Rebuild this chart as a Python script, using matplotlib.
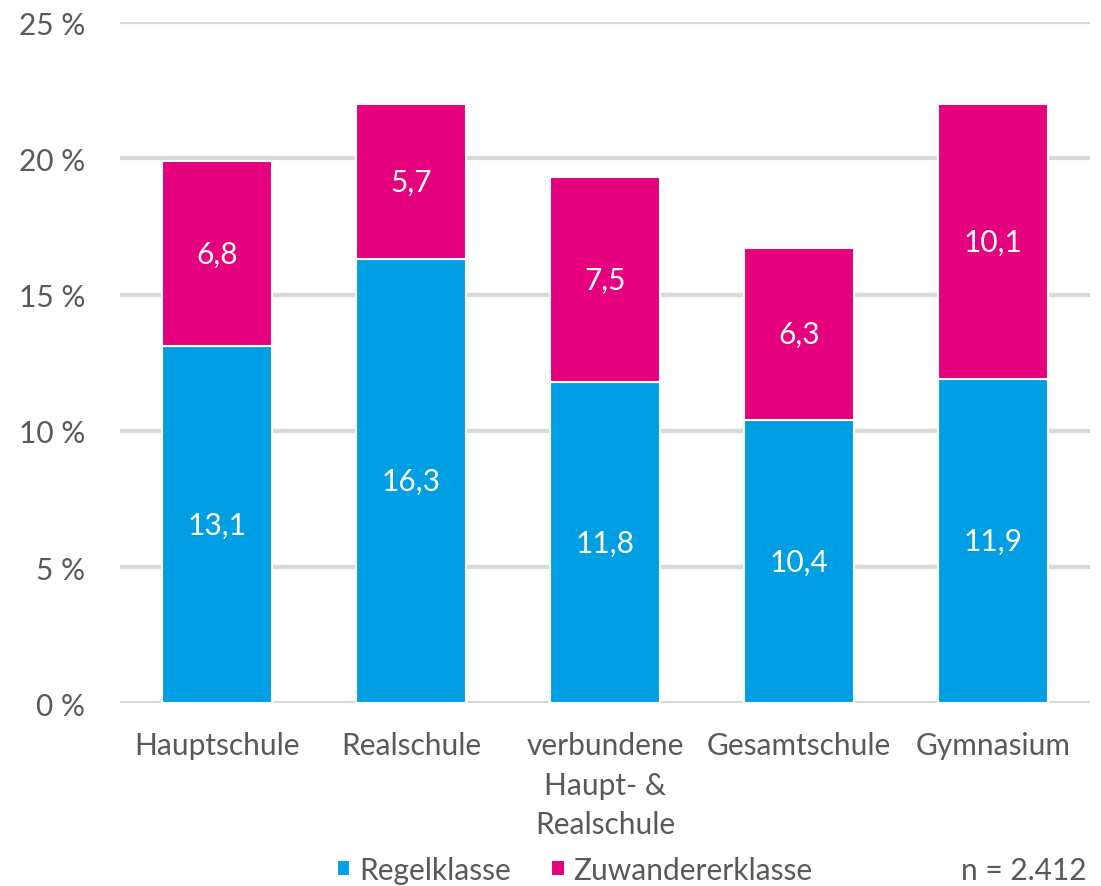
import matplotlib
matplotlib.use("Agg")
import matplotlib.pyplot as plt
import numpy as np

plt.rcParams["font.family"] = ["Lato", "DejaVu Sans"]

# ---- data ----
schools = ["Hauptschule", "Realschule", "verbundene\nHaupt- &\nRealschule", "Gesamtschule", "Gymnasium"]
regel = [13.1, 16.3, 11.8, 10.4, 11.9]
zuwanderer = [6.8, 5.7, 7.5, 6.3, 10.1]
series_names = ["Regelklasse", "Zuwandererklasse"]
n_label = "n = 2.412"

BLUE = "#009FE3"
MAGENTA = "#E5007D"
GRID = "#D9D9D9"
INK = "#595959"
FS = 21.5

fig = plt.figure(figsize=(11.01, 8.87), dpi=100)
ax = fig.add_axes([0.109, 0.206, 0.881, 0.768])

x = np.arange(len(schools))
w = 0.57
b1 = ax.bar(x, regel, w, color=BLUE, edgecolor="white", lw=1.5, label=series_names[0], zorder=3)
b2 = ax.bar(x, zuwanderer, w, bottom=regel, color=MAGENTA, edgecolor="white", lw=1.5,
            label=series_names[1], zorder=3)

for bars, vals in ((b1, regel), (b2, zuwanderer)):
    for rect, v in zip(bars, vals):
        ax.text(rect.get_x() + rect.get_width() / 2, rect.get_y() + rect.get_height() / 2,
                f"{v:.1f}".replace(".", ","), ha="center", va="center", color="white",
                fontsize=FS, zorder=4)

ax.set_xlim(-0.5, len(schools) - 0.5)
ax.set_ylim(0, 25)
ax.set_yticks(range(0, 26, 5))
ax.set_yticklabels([f"{t} %" for t in range(0, 26, 5)])
ax.set_xticks(x)
ax.set_xticklabels(schools, linespacing=1.5)
ax.tick_params(axis="both", length=0, colors=INK, labelsize=FS)
ax.tick_params(axis="y", pad=25)
ax.tick_params(axis="x", pad=20)
ax.yaxis.grid(True, color=GRID, lw=3, zorder=0)
for s in ax.spines.values():
    s.set_visible(False)

leg = fig.legend(handles=[b1, b2], loc="center", bbox_to_anchor=(0.522, 0.018), ncol=2,
                 frameon=False, fontsize=FS, handlelength=0.45, handleheight=0.45,
                 handletextpad=0.3, columnspacing=1.35, labelcolor=INK)
fig.text(0.987, 0.018, n_label, ha="right", va="center", fontsize=FS, color=INK)

fig.savefig("out.png", dpi=100)
